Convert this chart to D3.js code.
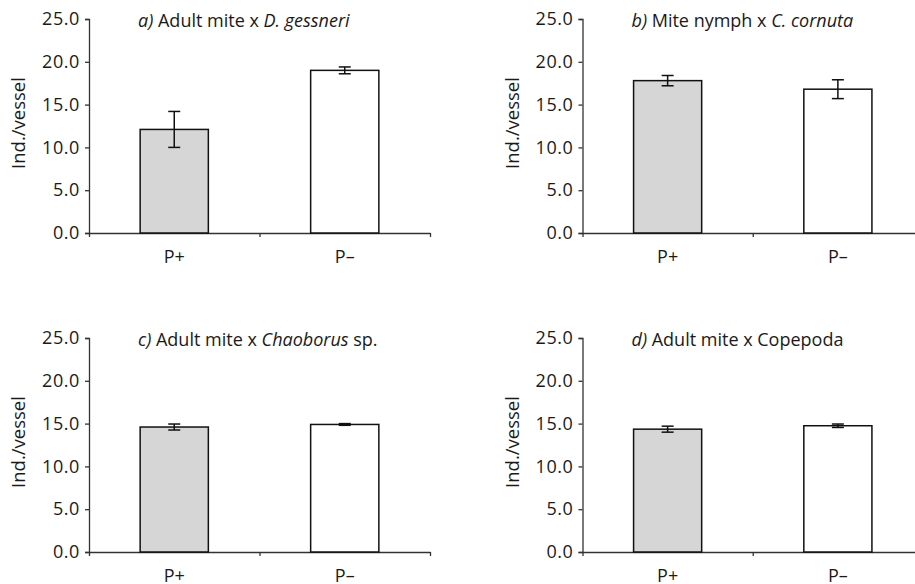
<!DOCTYPE html>
<html><head><meta charset="utf-8">
<script src="https://cdn.jsdelivr.net/npm/d3@7"></script>
<style>body{margin:0;background:#fff}svg{display:block}text{font-family:"Open Sans","Noto Sans",sans-serif;fill:#1a1a1a}</style>
</head><body><svg id="c" width="915" height="584"></svg>
<script>
const categories = ["P+", "P\u2013"];
const yTicks = [0, 5, 10, 15, 20, 25];
const panelLetters = ["a)", "b)", "c)", "d)"];
const titleParts = [
  [["Adult mite x ", false], ["D. gessneri", true]],
  [["Mite nymph x ", false], ["C. cornuta", true]],
  [["Adult mite x ", false], ["Chaoborus", true], [" sp.", false]],
  [["Adult mite x Copepoda", false]]
];
const meanA = [12.1, 19.0], errA = [2.1, 0.4];
const meanB = [17.8, 16.8], errB = [0.6, 1.1];
const meanC = [14.6, 14.9], errC = [0.35, 0.1];
const meanD = [14.35, 14.75], errD = [0.35, 0.2];
const means = [meanA, meanB, meanC, meanD];
const errs = [errA, errB, errC, errD];
const fills = ["#d6d6d6", "#ffffff"];

const svg = d3.select("#c");
const cols = [[89, 430], [582.5, 923]];
const rows = [[233, 19], [552, 338]];

for (let p = 0; p < 4; p++) {
  const [x0, x1] = cols[p % 2];
  const [y0, y1] = rows[Math.floor(p / 2)];
  const g = svg.append("g");
  const x = d3.scaleBand().domain(categories).range([x0, x1]).paddingInner(0.6).paddingOuter(0.3);
  const y = d3.scaleLinear().domain([0, 25]).range([y0, y1]);

  // y axis
  const ya = g.append("g").attr("transform", `translate(${x0},0)`)
    .call(d3.axisLeft(y).tickValues(yTicks).tickSize(4).tickPadding(5).tickFormat(d3.format(".1f")));
  ya.select(".domain").attr("stroke", "#333").attr("stroke-width", 1.3);
  ya.selectAll(".tick line").attr("stroke", "#333").attr("stroke-width", 1.3);
  ya.selectAll(".tick text").style("font-size", "18px").style("letter-spacing", "0.6px").attr("fill", "#1a1a1a");

  // x axis: boundary ticks
  const xb = d3.scaleLinear().domain([0, 2]).range([x0, x1]);
  const xa = g.append("g").attr("transform", `translate(0,${y0})`)
    .call(d3.axisBottom(xb).tickValues([0, 1, 2]).tickSize(4).tickSizeOuter(0).tickFormat(""));
  xa.select(".domain").attr("stroke", "#333").attr("stroke-width", 1.3);
  xa.selectAll(".tick line").attr("stroke", "#333").attr("stroke-width", 1.3);

  // category labels
  g.selectAll(".cl").data(categories).join("text")
    .attr("x", d => x(d) + x.bandwidth() / 2).attr("y", y0 + 30)
    .attr("text-anchor", "middle").style("font-size", "18px").text(d => d);

  // bars
  g.selectAll(".bar").data(categories).join("rect")
    .attr("x", d => x(d)).attr("width", x.bandwidth())
    .attr("y", (d, i) => y(means[p][i])).attr("height", (d, i) => y0 - y(means[p][i]))
    .attr("fill", (d, i) => fills[i]).attr("stroke", "#111").attr("stroke-width", 1.5);

  // error bars
  const eb = g.selectAll(".eb").data(categories).join("g");
  eb.append("line")
    .attr("x1", d => x(d) + x.bandwidth() / 2).attr("x2", d => x(d) + x.bandwidth() / 2)
    .attr("y1", (d, i) => y(means[p][i] + errs[p][i])).attr("y2", (d, i) => y(means[p][i] - errs[p][i]))
    .attr("stroke", "#111").attr("stroke-width", 1.5);
  [1, -1].forEach(s => {
    eb.append("line")
      .attr("x1", d => x(d) + x.bandwidth() / 2 - 6).attr("x2", d => x(d) + x.bandwidth() / 2 + 6)
      .attr("y1", (d, i) => y(means[p][i] + s * errs[p][i])).attr("y2", (d, i) => y(means[p][i] + s * errs[p][i]))
      .attr("stroke", "#111").attr("stroke-width", 1.5);
  });

  // title
  const t = g.append("text").attr("x", x0 + 49).attr("y", y1 + 8).style("font-size", "18px");
  t.append("tspan").style("font-style", "italic").text(panelLetters[p] + " ");
  titleParts[p].forEach(([s, it]) => t.append("tspan").style("font-style", it ? "italic" : "normal").text(s));

  // y label
  g.append("text").attr("transform", `translate(${x0 - 70},${(y0 + y1) / 2 - 3}) rotate(-90)`)
    .attr("text-anchor", "middle").attr("dy", "0.35em").style("font-size", "18.5px").text("Ind./vessel");
}
</script></body></html>
